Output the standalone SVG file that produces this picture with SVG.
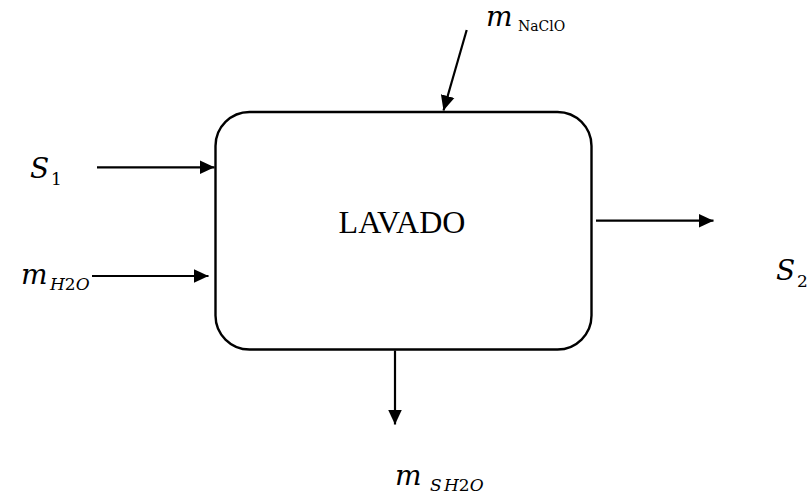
<svg xmlns="http://www.w3.org/2000/svg" width="811" height="495" viewBox="0 0 811 495">
  <style>
    .box { fill: #ffffff; stroke: #000000; stroke-width: 2.4; }
    .flow { fill: none; stroke: #000000; stroke-width: 2.2; marker-end: url(#arrow); }
    .title { font-family: "Liberation Serif", "Times New Roman", serif; font-size: 32px; fill: #000000; }
    .sym { font-family: "DejaVu Serif", "Liberation Serif", serif; font-style: italic; font-size: 28px; fill: #000000; }
    .sub { font-family: "DejaVu Serif", "Liberation Serif", serif; font-style: italic; font-size: 17px; fill: #000000; }
    .num { font-family: "DejaVu Serif", "Liberation Serif", serif; font-style: normal; font-size: 17px; fill: #000000; }
    .subr { font-family: "DejaVu Serif", "Liberation Serif", serif; font-size: 14px; fill: #000000; }
  </style>
  <defs>
    <marker id="arrow" markerUnits="userSpaceOnUse" markerWidth="16" markerHeight="16" viewBox="0 0 16 16" refX="15" refY="8" orient="auto">
      <path d="M0,1 L15,8 L0,15 Z" fill="#000000"/>
    </marker>
  </defs>

  <!-- process block -->
  <g id="lavado">
    <rect class="box" x="215.5" y="112" width="376" height="237.5" rx="34" ry="34"/>
    <text class="title" x="402" y="233" text-anchor="middle">LAVADO</text>
  </g>

  <!-- streams -->
  <g id="connectors">
    <line class="flow" x1="466.7" y1="30" x2="443.5" y2="110.5"/>
    <line class="flow" x1="97" y1="167.3" x2="214.5" y2="167.3"/>
    <line class="flow" x1="92" y1="276" x2="208.5" y2="276"/>
    <line class="flow" x1="596" y1="220.7" x2="713.5" y2="220.7"/>
    <line class="flow" x1="395" y1="350.5" x2="395" y2="424.5"/>
  </g>

  <!-- stream labels -->
  <g id="label-naclo">
    <text x="486" y="26"><tspan class="sym">m</tspan><tspan class="subr" x="518" y="31">NaClO</tspan></text>
  </g>
  <g id="label-s1">
    <text x="30" y="178"><tspan class="sym">S</tspan><tspan class="num" x="51" y="185">1</tspan></text>
  </g>
  <g id="label-h2o">
    <text x="21" y="284"><tspan class="sym">m</tspan><tspan class="sub" x="50" y="290">H</tspan><tspan class="num">2</tspan><tspan class="sub">O</tspan></text>
  </g>
  <g id="label-s2">
    <text x="776" y="280"><tspan class="sym">S</tspan><tspan class="num" x="797" y="287">2</tspan></text>
  </g>
  <g id="label-sh2o">
    <text x="395" y="485"><tspan class="sym">m</tspan><tspan class="sub" x="430" y="491">S</tspan><tspan class="sub" x="444" y="491">H</tspan><tspan class="num">2</tspan><tspan class="sub">O</tspan></text>
  </g>
</svg>
